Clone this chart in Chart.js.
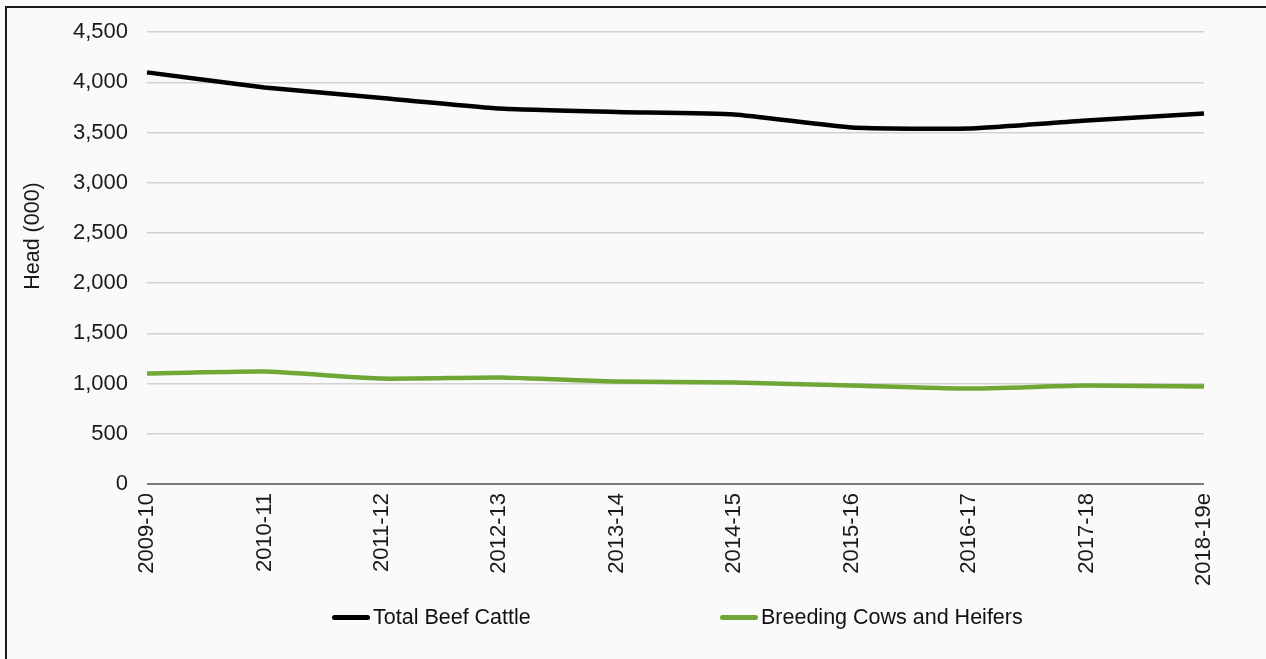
<!DOCTYPE html>
<html>
<head>
<meta charset="utf-8">
<script src="https://cdn.jsdelivr.net/npm/chart.js@4/dist/chart.umd.min.js"></script>
<style>
  html, body { margin: 0; padding: 0; background: #fafafa; width: 1266px; height: 659px; overflow: hidden; }
  #wrap { position: absolute; left: 0; top: 0; width: 1266px; height: 659px; }
  #frame { position: absolute; left: 5px; top: 6px; width: 1270px; height: 660px; border-left: 2px solid #1a1a1a; border-top: 2px solid #1a1a1a; pointer-events: none; }
  .leg { position: absolute; top: 604px; height: 26px; font-family: "Liberation Sans", Arial, sans-serif; font-size: 21.5px; color: #111; white-space: nowrap; line-height: 26px; }
  .leg span.sw { position: absolute; top: 11px; height: 5px; border-radius: 2.5px; }
</style>
</head>
<body>
<div id="wrap"><canvas id="c" width="1266" height="659"></canvas></div>
<div id="frame"></div>
<div class="leg" style="left:332px;"><span class="sw" style="left:0;width:38px;background:#000;"></span><span style="position:absolute;left:41px;">Total Beef Cattle</span></div>
<div class="leg" style="left:720px;"><span class="sw" style="left:0;width:38px;background:#6fa736;"></span><span style="position:absolute;left:41px;">Breeding Cows and Heifers</span></div>
<script>
const categories = ["2009-10","2010-11","2011-12","2012-13","2013-14","2014-15","2015-16","2016-17","2017-18","2018-19e"];
const totalBeefCattle = [4100, 3950, 3845, 3740, 3705, 3680, 3550, 3540, 3620, 3690];
const breedingCowsHeifers = [1100, 1120, 1050, 1060, 1020, 1010, 980, 950, 980, 970];
const yTicks = [0, 500, 1000, 1500, 2000, 2500, 3000, 3500, 4000, 4500];
const seriesNames = ["Total Beef Cattle", "Breeding Cows and Heifers"];
const yTitle = "Head (000)";

Chart.defaults.font.family = '"Liberation Sans", Arial, sans-serif';
Chart.defaults.font.size = 22;
Chart.defaults.color = '#1a1a1a';

const yTitlePlugin = {
  id: 'yTitle',
  afterDraw(chart) {
    const ctx = chart.ctx;
    ctx.save();
    ctx.translate(33, 236);
    ctx.rotate(-Math.PI / 2);
    ctx.font = '21.5px "Liberation Sans", Arial, sans-serif';
    ctx.fillStyle = '#1a1a1a';
    ctx.textAlign = 'center';
    ctx.textBaseline = 'middle';
    ctx.fillText(yTitle, 0, 0);
    ctx.restore();
  }
};

new Chart(document.getElementById('c'), {
  type: 'line',
  data: {
    labels: categories,
    datasets: [
      { label: seriesNames[0], data: totalBeefCattle, borderColor: '#000000', borderWidth: 4.5, pointRadius: 0, tension: 0.15, fill: false },
      { label: seriesNames[1], data: breedingCowsHeifers, borderColor: '#6fa736', borderWidth: 4.5, pointRadius: 0, tension: 0.15, fill: false }
    ]
  },
  plugins: [yTitlePlugin],
  options: {
    responsive: false,
    animation: false,
    devicePixelRatio: 1,
    layout: { padding: { left: 23, right: 62, top: 30, bottom: 45 } },
    plugins: { legend: { display: false }, tooltip: { enabled: false } },
    scales: {
      x: {
        offset: false,
        grid: { display: false, drawTicks: false },
        border: { display: false },
        ticks: { minRotation: 90, maxRotation: 90, autoSkip: false, padding: 9, font: { size: 22 } },
        afterFit: s => { s.height = 130; }
      },
      y: {
        min: 0, max: 4500,
        afterBuildTicks: s => { s.ticks = yTicks.map(v => ({ value: v })); },
        ticks: { padding: 19, font: { size: 22 }, callback: v => v.toLocaleString('en-US') },
        grid: {
          drawTicks: false,
          color: ctx => ctx.tick && ctx.tick.value === 0 ? '#7a7a7a' : '#d2d2d2',
          lineWidth: ctx => ctx.tick && ctx.tick.value === 0 ? 2 : 1.5
        },
        border: { display: false },
        title: { display: false },
        afterFit: s => { s.width = 124; }
      }
    }
  }
});
</script>
</body>
</html>
